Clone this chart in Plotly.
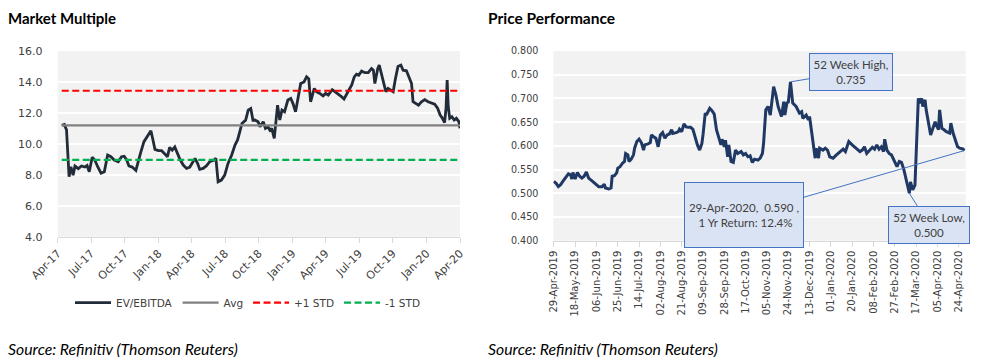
import plotly.graph_objects as go
import pandas as pd

# ---------------- Market Multiple (EV/EBITDA) ----------------
mm_dates = [
    "2017-04-12", "2017-04-19", "2017-04-25", "2017-05-02", "2017-05-07", "2017-05-13", "2017-05-18",
    "2017-05-27", "2017-06-05", "2017-06-14", "2017-06-20", "2017-06-26", "2017-07-04", "2017-07-11",
    "2017-07-19", "2017-07-28", "2017-08-06", "2017-08-15", "2017-08-24", "2017-09-02", "2017-09-13",
    "2017-09-22", "2017-09-29", "2017-10-06", "2017-10-12", "2017-10-21", "2017-10-31", "2017-11-06",
    "2017-11-13", "2017-11-22", "2017-12-03", "2017-12-11", "2017-12-17", "2017-12-22", "2017-12-31",
    "2018-01-09", "2018-01-18", "2018-01-25", "2018-01-31", "2018-02-07", "2018-02-14", "2018-02-21",
    "2018-02-28", "2018-03-09", "2018-03-18", "2018-03-27", "2018-04-02", "2018-04-10", "2018-04-17",
    "2018-04-23", "2018-05-02", "2018-05-11", "2018-05-20", "2018-06-01", "2018-06-06", "2018-06-12",
    "2018-06-21", "2018-06-30", "2018-07-09", "2018-07-19", "2018-07-28", "2018-08-04", "2018-08-10",
    "2018-08-16", "2018-08-26", "2018-09-02", "2018-09-09", "2018-09-15", "2018-09-20", "2018-09-29",
    "2018-10-04", "2018-10-13", "2018-10-19", "2018-10-26", "2018-10-31", "2018-11-05", "2018-11-12",
    "2018-11-21", "2018-11-27", "2018-12-03", "2018-12-10", "2018-12-19", "2018-12-27", "2019-01-02",
    "2019-01-09", "2019-01-16", "2019-01-23", "2019-02-01", "2019-02-08", "2019-02-14", "2019-02-19",
    "2019-03-01", "2019-03-07", "2019-03-16", "2019-03-25", "2019-04-01", "2019-04-08", "2019-04-19",
    "2019-04-26", "2019-05-05", "2019-05-14", "2019-05-21", "2019-05-31", "2019-06-11", "2019-06-18",
    "2019-06-24", "2019-06-30", "2019-07-08", "2019-07-17", "2019-07-26", "2019-08-04", "2019-08-09",
    "2019-08-13", "2019-08-21", "2019-08-25", "2019-09-01", "2019-09-07", "2019-09-12", "2019-09-18",
    "2019-09-25", "2019-10-02", "2019-10-08", "2019-10-15", "2019-10-23", "2019-10-29", "2019-11-07",
    "2019-11-16", "2019-11-21", "2019-11-25", "2019-12-04", "2019-12-10", "2019-12-18", "2019-12-27",
    "2020-01-05", "2020-01-14", "2020-01-23", "2020-01-31", "2020-02-07", "2020-02-13", "2020-02-19",
    "2020-02-23", "2020-02-26", "2020-02-29", "2020-03-04", "2020-03-10", "2020-03-16", "2020-03-22",
    "2020-03-29", "2020-04-01",
]
mm_values = [
    11.2, 11.25, 10.9, 7.88, 8.52, 7.98, 8.57,
    8.4, 8.57, 8.5, 8.6, 8.2, 9.13, 8.96,
    8.52, 8.1, 8.2, 9.28, 9.17, 8.96, 8.85,
    9.17, 9.2, 8.96, 8.57, 8.5, 8.28, 8.9,
    9.43, 10.14, 10.57, 10.85, 10.2, 9.64, 9.56,
    9.56, 9.34, 9.17, 9.77, 9.6, 9.8, 9.39,
    9.0, 8.63, 8.41, 8.5, 8.74, 9.06, 8.74,
    8.35, 8.41, 8.57, 8.85, 8.96, 9.06, 7.55,
    7.66, 7.98, 8.74, 9.28, 9.92, 10.25, 10.78,
    11.32, 11.53, 12.18, 12.28, 11.53, 11.54, 11.43,
    11.1, 11.43, 11.0, 11.1, 10.88, 11.0, 10.35,
    12.5, 11.54, 12.18, 12.07, 12.83, 12.93, 12.6,
    12.07, 13.0, 13.9, 14.0, 14.33, 14.2, 12.72,
    13.58, 13.37, 13.26, 13.1, 13.26, 13.15, 13.5,
    13.37, 13.26, 13.05, 12.9, 13.37, 13.8, 14.33,
    14.5, 14.43, 14.7, 14.6, 14.6, 14.87, 14.76,
    13.9, 14.87, 15.09, 14.43, 13.7, 13.37, 13.58,
    13.48, 13.37, 14.2, 15.0, 15.09, 14.76, 14.72,
    14.2, 13.9, 12.72, 12.6, 12.5, 12.72, 12.86,
    12.72, 12.65, 12.57, 12.3, 11.86, 11.65, 11.38,
    12.3, 14.12, 12.4, 11.65, 11.75, 11.54, 11.65,
    11.43, 11.0,
]
mm_avg = 11.2
mm_plus_1std = 13.43
mm_minus_1std = 8.97
mm_series_names = ["EV/EBITDA", "Avg", "+1 STD", "-1 STD"]

# ---------------- Price Performance ----------------
pp_start = "2019-04-29"
pp_days = [
    0, 2, 4, 6, 8, 11, 13, 15, 16, 17, 19, 21, 23, 25, 27, 29, 31, 34, 37, 40, 43, 45, 46, 49, 51,
    52, 54, 56, 57, 59, 61, 63, 64, 66, 67, 69, 71, 72, 74, 76, 78, 80, 81, 84, 86, 87, 89, 91, 93,
    95, 97, 99, 101, 103, 105, 106, 109, 111, 112, 114, 116, 118, 120, 122, 124, 126, 128, 130, 132,
    133, 135, 136, 139, 141, 143, 145, 147, 149, 150, 152, 153, 155, 156, 158, 160, 162, 164, 167,
    169, 171, 173, 175, 177, 179, 182, 184, 186, 187, 189, 191, 193, 196, 198, 200, 203, 205, 206,
    208, 209, 211, 213, 216, 219, 221, 222, 225, 227, 228, 230, 231, 233, 234, 236, 237, 240, 242,
    244, 246, 249, 252, 255, 258, 260, 263, 266, 268, 271, 273, 275, 277, 279, 282, 284, 286, 288,
    290, 292, 294, 295, 297, 299, 301, 303, 306, 308, 310, 312, 315, 317, 318, 320, 322, 323, 325,
    326, 328, 329, 331, 332, 334, 336, 338, 340, 341, 343, 344, 346, 348, 350, 353, 354, 356, 358,
    360, 362, 365, 366,
]
pp_prices = [
    0.525, 0.521, 0.514, 0.518, 0.525, 0.536, 0.541, 0.539, 0.530, 0.544, 0.530, 0.544, 0.536, 0.532,
    0.536, 0.545, 0.532, 0.526, 0.520, 0.514, 0.514, 0.519, 0.511, 0.509, 0.511,
    0.536, 0.537, 0.543, 0.553, 0.556, 0.563, 0.567, 0.584, 0.581, 0.567, 0.572, 0.581, 0.595, 0.609,
    0.614, 0.607, 0.591, 0.602, 0.604, 0.607, 0.623, 0.619, 0.616, 0.598,
    0.623, 0.628, 0.616, 0.623, 0.625, 0.634, 0.626, 0.628, 0.630, 0.635, 0.630, 0.646, 0.640, 0.639,
    0.639, 0.635, 0.616, 0.602, 0.591, 0.605,
    0.623, 0.669, 0.665, 0.679, 0.674, 0.667, 0.634, 0.616, 0.602, 0.614, 0.598, 0.612, 0.577, 0.602,
    0.567, 0.565, 0.591, 0.584, 0.588,
    0.581, 0.584, 0.577, 0.579, 0.565, 0.572, 0.570, 0.574, 0.584, 0.605, 0.676, 0.683, 0.665, 0.725,
    0.707, 0.683, 0.662, 0.693, 0.665,
    0.693, 0.690, 0.735, 0.690, 0.683, 0.669, 0.672, 0.658, 0.665, 0.655, 0.662, 0.627, 0.605, 0.574,
    0.595, 0.574, 0.595, 0.591, 0.595,
    0.591, 0.577, 0.574, 0.581, 0.588, 0.593, 0.588, 0.609, 0.602, 0.598, 0.593, 0.588, 0.591, 0.598,
    0.584, 0.591, 0.597, 0.593, 0.602,
    0.593, 0.598, 0.588, 0.614, 0.591, 0.584, 0.581, 0.570, 0.556, 0.567, 0.565, 0.551, 0.521, 0.500,
    0.524, 0.507, 0.517, 0.584, 0.700,
    0.690, 0.700, 0.683, 0.697, 0.676, 0.648, 0.623, 0.637, 0.651, 0.644, 0.634, 0.676, 0.637, 0.634,
    0.630, 0.627, 0.648, 0.627, 0.613,
    0.598, 0.595, 0.593, 0.590,
]
pp_dates = pd.Timestamp(pp_start) + pd.to_timedelta(pp_days, unit="D")

# ---------------- Layout helpers (page body has an 8px margin) ----------------
OFF = 8
FIG_W, FIG_H = 989 - OFF, 362 - OFF


def px(x):
    return (x - OFF) / FIG_W


def py(y):
    return 1 - (y - OFF) / FIG_H


TICK_FONT = "DejaVu Sans"
TEXT_GREY = "#404040"
fig = go.Figure()

fig.add_trace(go.Scatter(x=mm_dates, y=mm_values, mode="lines", name=mm_series_names[0],
                         line=dict(color="#222B38", width=2.8), xaxis="x", yaxis="y"))
fig.add_trace(go.Scatter(x=[mm_dates[0], mm_dates[-1]], y=[mm_avg, mm_avg], mode="lines",
                         name=mm_series_names[1], line=dict(color="#808080", width=2.2),
                         xaxis="x", yaxis="y"))
fig.add_trace(go.Scatter(x=[mm_dates[0], mm_dates[-1]], y=[mm_plus_1std, mm_plus_1std], mode="lines",
                         name=mm_series_names[2], line=dict(color="#FF0000", width=2.2, dash="7px,3.5px"),
                         xaxis="x", yaxis="y"))
fig.add_trace(go.Scatter(x=[mm_dates[0], mm_dates[-1]], y=[mm_minus_1std, mm_minus_1std], mode="lines",
                         name=mm_series_names[3], line=dict(color="#00B050", width=2.2, dash="7px,3.5px"),
                         xaxis="x", yaxis="y"))

fig.add_trace(go.Scatter(x=pp_dates, y=pp_prices, mode="lines", showlegend=False,
                         line=dict(color="#1F3864", width=3), xaxis="x2", yaxis="y2"))

# callouts
i_high = max(range(len(pp_prices)), key=lambda i: pp_prices[i])
i_low = min(range(len(pp_prices)), key=lambda i: pp_prices[i])
i_last = len(pp_prices) - 1
ret = pp_prices[i_last] / pp_prices[0] - 1
last_label = pp_dates[i_last].strftime("%d-%b-%Y")

callout = dict(xref="x2", yref="y2", showarrow=True, arrowhead=0, arrowwidth=1, arrowcolor="#4472C4",
               bgcolor="#DAE3F3", bordercolor="#4472C4", borderwidth=1, borderpad=1,
               font=dict(family="Lato", size=11.5, color=TEXT_GREY), align="center")

title_font = dict(family="Lato", size=15, color="#000000")
source_font = dict(family="Lato", size=15.8, color="#000000")
annotations = [
    dict(callout, x=pp_dates[i_high], y=pp_prices[i_high],
         text=f"52 Week High,<br>{pp_prices[i_high]:.3f}", ax=61, ay=-10, width=80, height=34),
    dict(callout, x=pp_dates[i_last], y=pp_prices[i_last],
         text=f"{last_label},  {pp_prices[i_last]:.3f} ,<br> 1 Yr Return: {ret*100:.1f}%",
         ax=-220, ay=64, width=116, height=62),
    dict(callout, x=pp_dates[i_low], y=pp_prices[i_low],
         text=f"52 Week Low,<br>{pp_prices[i_low]:.3f}", ax=20, ay=32, width=78, height=34),
    dict(xref="paper", yref="paper", x=px(7), y=py(8), xanchor="left", yanchor="top", borderpad=0,
         showarrow=False, text="<b>Market Multiple</b>", font=title_font),
    dict(xref="paper", yref="paper", x=px(487), y=py(8), xanchor="left", yanchor="top", borderpad=0,
         showarrow=False, text="<b>Price Performance</b>", font=dict(title_font, size=15.5)),
    dict(xref="paper", yref="paper", x=px(6), y=py(348), xanchor="left", yanchor="middle",
         showarrow=False, text="<i>Source: Refinitiv (Thomson Reuters)</i>", font=source_font),
    dict(xref="paper", yref="paper", x=px(486), y=py(348), xanchor="left", yanchor="middle",
         showarrow=False, text="<i>Source: Refinitiv (Thomson Reuters)</i>", font=source_font),
]

axis_common = dict(showgrid=False, zeroline=False, showline=True, linecolor="#D9D9D9", linewidth=1,
                   ticks="outside", ticklen=5, tickcolor="#D9D9D9", automargin=False)
yaxis_common = dict(showgrid=True, gridcolor="#FFFFFF", gridwidth=1.5, zeroline=False, showline=False,
                    ticks="outside", ticklen=12, tickcolor="rgba(0,0,0,0)", automargin=False)

fig.update_layout(
    template="none",
    width=FIG_W, height=FIG_H, autosize=False,
    margin=dict(l=0, r=0, t=0, b=0, pad=0),
    paper_bgcolor="#FFFFFF", plot_bgcolor="#F2F2F2",
    xaxis=dict(axis_common, domain=[px(57.7), px(460)], type="date",
               range=["2017-04-01", "2020-04-01"], tick0="2017-04-01", dtick="M3", tickformat="%b-%y",
               tickangle=-45, tickfont=dict(family=TICK_FONT, size=11, color=TEXT_GREY), anchor="y"),
    yaxis=dict(yaxis_common, domain=[py(236.7), py(51)], range=[4, 16], dtick=2,
               tickformat=".1f", tickfont=dict(family=TICK_FONT, size=11, color=TEXT_GREY), anchor="x"),
    xaxis2=dict(axis_common, domain=[px(553.3), px(965.7)], type="date",
                range=["2019-04-28 12:00", "2020-04-30 06:00"], tick0=pp_start, dtick=19 * 86400000,
                tickformat="%d-%b-%Y", tickangle=-90,
                tickfont=dict(family=TICK_FONT, size=10, color=TEXT_GREY), anchor="y2"),
    yaxis2=dict(yaxis_common, domain=[py(240.7), py(51)], range=[0.4, 0.8], dtick=0.05,
                tickformat=".3f", tickfont=dict(family=TICK_FONT, size=9.6, color=TEXT_GREY), anchor="x2"),
    showlegend=True,
    legend=dict(orientation="h", x=px(248), y=py(302.7), xanchor="center", yanchor="middle",
                font=dict(family=TICK_FONT, size=10.5, color=TEXT_GREY), bgcolor="rgba(0,0,0,0)",
                itemwidth=36, tracegroupgap=0),
    annotations=annotations,
)

fig.write_html("out.html")
